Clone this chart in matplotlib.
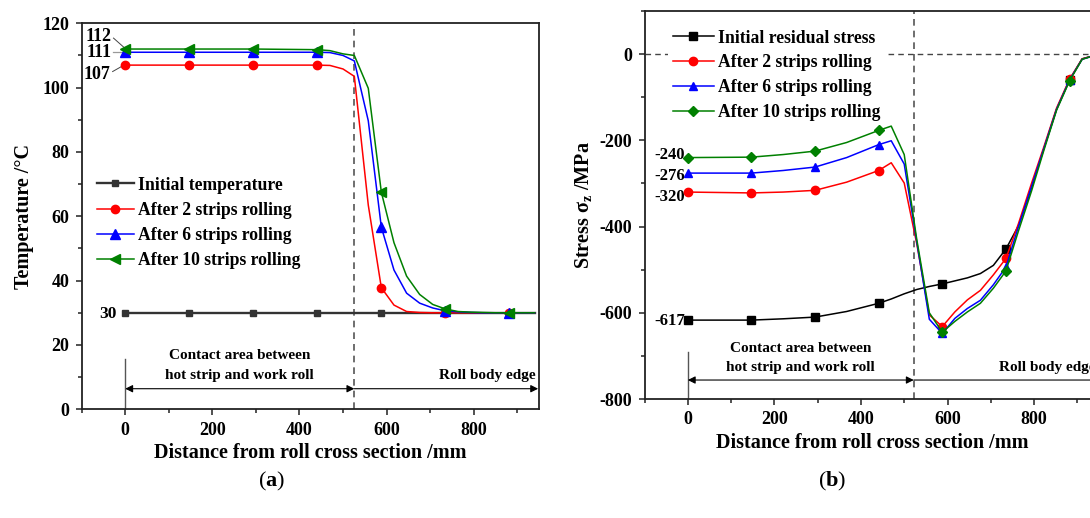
import numpy as np
import matplotlib
matplotlib.use("Agg")
import matplotlib.pyplot as plt
from matplotlib.ticker import MultipleLocator

plt.rcParams["font.family"] = ["Liberation Serif", "DejaVu Serif"]
plt.rcParams["font.weight"] = "bold"
plt.rcParams["axes.labelweight"] = "bold"
plt.rcParams["axes.unicode_minus"] = False
plt.rcParams["mathtext.fontset"] = "custom"
plt.rcParams["mathtext.rm"] = "Liberation Serif:bold"
plt.rcParams["mathtext.bf"] = "Liberation Serif:bold"
plt.rcParams["mathtext.it"] = "Liberation Serif:bold:italic"

# ---- (a) temperature ----
xa = [0, 147, 294, 441, 470, 500, 526, 558, 588, 617, 646, 676, 706, 735,
      764, 794, 823, 852, 882, 911, 940]
t_init = [30] * len(xa)
t_2 = [107, 107, 107, 107, 106.9, 105.8, 103.5, 63.5, 37.8, 32.4, 30.4, 30.1,
       30, 30, 30, 30, 30, 30, 30, 30, 30]
t_6 = [111, 111, 111, 111, 110.9, 110, 108.3, 89.7, 56.6, 43.3, 36.1, 33,
       31.5, 30.6, 30.3, 30.1, 30, 30, 30, 30, 30]
t_10 = [112, 112, 112, 111.8, 111.5, 110.5, 110, 99.8, 67.5, 51.8, 41.4, 35.7,
        32.6, 31.2, 30.4, 30.2, 30.1, 30, 30, 30, 30]
labels_a = ["Initial temperature", "After 2 strips rolling",
            "After 6 strips rolling", "After 10 strips rolling"]

# ---- (b) residual stress ----
xb = [0, 147, 220, 294, 367, 441, 470, 500, 529, 558, 588, 617, 646, 676, 706,
      735, 764, 794, 823, 852, 882, 911, 940]
s_init = [-617, -617, -614, -610, -597, -578, -568, -556, -546, -539, -533,
          -526, -519, -509, -490, -452, -398, -310, -218, -128, -60, -11, -3]
s_2 = [-320, -322, -320, -316, -297, -270, -252, -299, -440, -605, -632, -598,
       -570, -548, -512, -474, -393, -300, -214, -125, -58, -11, -3]
s_6 = [-276, -276, -270, -262, -240, -210, -201, -255, -435, -615, -648, -613,
       -590, -571, -535, -494, -400, -308, -218, -128, -60, -12, -3]
s_10 = [-240, -239, -233, -225, -205, -177, -167, -233, -430, -600, -645, -620,
        -598, -578, -543, -503, -410, -318, -222, -130, -62, -12, -3]
labels_b = ["Initial residual stress", "After 2 strips rolling",
            "After 6 strips rolling", "After 10 strips rolling"]

mark_x = [0, 147, 294, 441, 588, 735, 882]
edge_a = 526
edge_b = 522

W, H = 1090, 518
fig = plt.figure(figsize=(W / 100, H / 100), dpi=100)
ax1 = fig.add_axes([81.7 / W, (H - 409.3) / H, (539 - 81.7) / W, (409.3 - 23.3) / H])
ax2 = fig.add_axes([644.5 / W, (H - 399) / H, (1099 - 644.5) / W, (399 - 11) / H])


def marks(x):
    return [i for i, v in enumerate(x) if v in mark_x]


def style_axes(ax):
    for s in ax.spines.values():
        s.set_linewidth(1.3)
        s.set_color("#222222")
    ax.tick_params(which="both", direction="out", top=False, right=False,
                   labelsize=13, width=1.1, color="#222222")
    ax.tick_params(which="major", length=4, pad=5)
    ax.tick_params(which="minor", length=2.6)
    ax.xaxis.set_major_locator(MultipleLocator(200))
    ax.xaxis.set_minor_locator(MultipleLocator(100))
    ax.set_xlim(-100, 950)
    ax.set_xlabel("Distance from roll cross section /mm", fontsize=14.5, labelpad=3)


# panel (a)
ax1.axvline(edge_a, color="#555555", ls=(0, (4, 3)), lw=1.2, zorder=1)
ax1.plot(xa, t_init, color="#333333", lw=1.7, marker="s", ms=5,
         markevery=marks(xa), label=labels_a[0], zorder=3)
ax1.plot(xa, t_2, color="red", lw=1.1, marker="o", ms=6,
         markevery=marks(xa), label=labels_a[1], zorder=4)
ax1.plot(xa, t_6, color="blue", lw=1.1, marker="^", ms=6.5,
         markevery=marks(xa), label=labels_a[2], zorder=5)
ax1.plot(xa, t_10, color="green", lw=1.1, marker="<", ms=7,
         markevery=marks(xa), label=labels_a[3], zorder=6)
ax1.set_ylim(0, 120)
ax1.yaxis.set_major_locator(MultipleLocator(20))
ax1.yaxis.set_minor_locator(MultipleLocator(10))
ax1.set_ylabel("Temperature /°C", fontsize=14.5, labelpad=6)
style_axes(ax1)
ax1.legend(loc="center left", bbox_to_anchor=(-66, 58.0),
           bbox_transform=ax1.transData, frameon=False, fontsize=12.7,
           handlelength=2.1, handletextpad=0.25, labelspacing=0.46,
           borderpad=0, borderaxespad=0)

ax1.text(-31, 115.8, str(t_10[0]), ha="right", va="center", fontsize=13)
ax1.plot([-27, -2], [115.4, 112.4], color="#444444", lw=0.7)
ax1.text(-31, 110.9, str(t_6[0]), ha="right", va="center", fontsize=13)
ax1.plot([-27, -4], [111, 111], color="#999999", lw=0.9)
ax1.text(-33, 104.2, str(t_2[0]), ha="right", va="center", fontsize=13)
ax1.plot([-29, -3], [105, 107], color="#444444", lw=0.7)
ax1.text(-20, 29.6, str(t_init[0]), ha="right", va="center", fontsize=12.5)

ax1.plot([0, 0], [0, 15.5], color="#555555", lw=1.0)
arr = dict(arrowstyle="<|-|>", color="black", lw=0.8, shrinkA=0, shrinkB=0,
           mutation_scale=11)
ax1.annotate("", xy=(edge_a, 6.4), xytext=(0, 6.4), arrowprops=arr)
ax1.annotate("", xy=(948, 6.4), xytext=(edge_a, 6.4),
             arrowprops=dict(arr, arrowstyle="-|>"))
ax1.text(edge_a / 2, 16.6, "Contact area between", ha="center", va="center", fontsize=11)
ax1.text(edge_a / 2, 10.4, "hot strip and work roll", ha="center", va="center", fontsize=11)
ax1.text(943, 10.4, "Roll body edge", ha="right", va="center", fontsize=11)

# panel (b)
ax2.axvline(edge_b, color="#555555", ls=(0, (4, 3)), lw=1.2, zorder=1)
ax2.axhline(0, color="#444444", ls=(0, (4, 3)), lw=1.0, zorder=1)
ax2.plot(xb, s_init, color="black", lw=1.1, marker="s", ms=5.5,
         markevery=marks(xb), label=labels_b[0], zorder=3)
ax2.plot(xb, s_2, color="red", lw=1.1, marker="o", ms=6,
         markevery=marks(xb), label=labels_b[1], zorder=4)
ax2.plot(xb, s_6, color="blue", lw=1.1, marker="^", ms=6,
         markevery=marks(xb), label=labels_b[2], zorder=5)
ax2.plot(xb, s_10, color="green", lw=1.1, marker="D", ms=5.5,
         markevery=marks(xb), label=labels_b[3], zorder=6)
ax2.set_ylim(-800, 100)
ax2.yaxis.set_major_locator(MultipleLocator(200))
ax2.yaxis.set_minor_locator(MultipleLocator(100))
ax2.set_ylabel("Stress $\\mathbf{\\sigma_z}$ /MPa", fontsize=14.5, labelpad=4)
style_axes(ax2)
leg = ax2.legend(loc="center left", bbox_to_anchor=(-46, -49),
                 bbox_transform=ax2.transData, frameon=True, fontsize=12.7,
                 handlelength=2.3, handletextpad=0.25, labelspacing=0.44,
                 borderpad=0.3, borderaxespad=0, fancybox=False)
leg.get_frame().set_edgecolor("none")
leg.get_frame().set_facecolor("white")
leg.get_frame().set_alpha(1)
leg.set_zorder(2)

for val, yy in [(s_10[0], -235), (s_6[0], -283), (s_2[0], -332), (s_init[0], -619)]:
    ax2.text(-6, yy, str(val), ha="right", va="center", fontsize=12)

ax2.plot([0, 0], [-800, -690], color="#555555", lw=1.0)
ax2.annotate("", xy=(edge_b, -756), xytext=(0, -756), arrowprops=arr)
ax2.annotate("", xy=(948, -756), xytext=(edge_b, -756),
             arrowprops=dict(arr, arrowstyle="-|>"))
ax2.text(edge_b / 2, -683, "Contact area between", ha="center", va="center", fontsize=11)
ax2.text(edge_b / 2, -728, "hot strip and work roll", ha="center", va="center", fontsize=11)
ax2.text(943, -728, "Roll body edge", ha="right", va="center", fontsize=11)

fig.text(272 / W, 1 - 481 / H, "($\\mathbf{a}$)", ha="center", va="center",
         fontsize=16, fontweight="normal")
fig.text(832 / W, 1 - 481 / H, "($\\mathbf{b}$)", ha="center", va="center",
         fontsize=16, fontweight="normal")

fig.savefig("out.png", dpi=100)
